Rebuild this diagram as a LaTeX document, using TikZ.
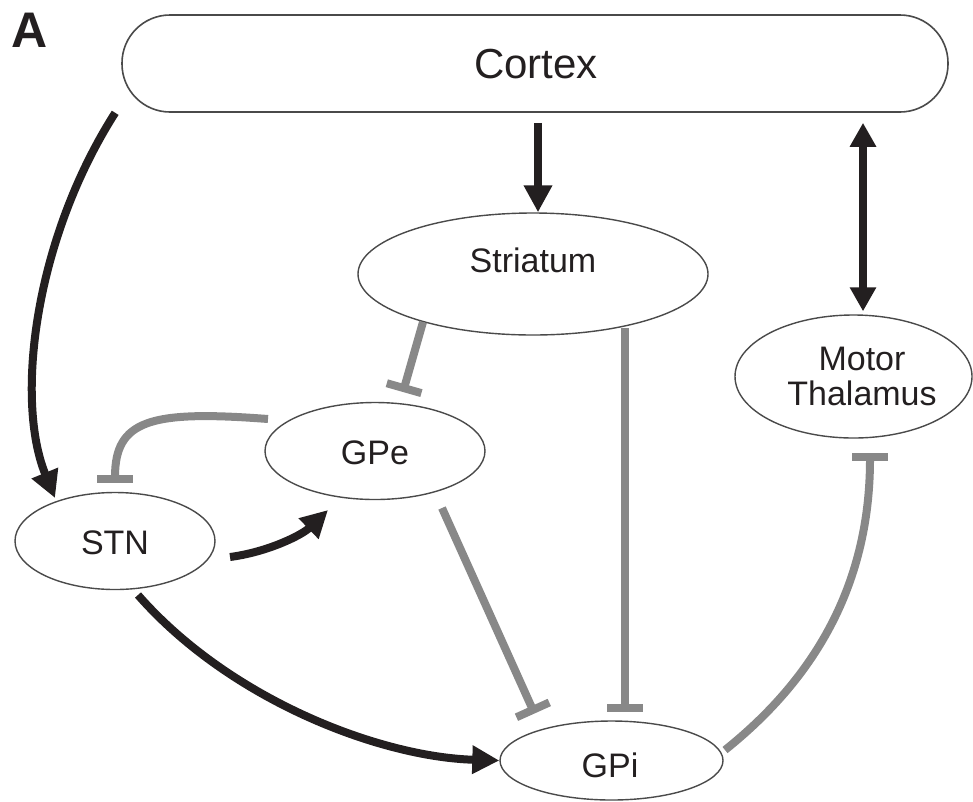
\documentclass[tikz,border=0pt]{standalone}
\usepackage{fontspec}
\setmainfont{Liberation Sans}
\usetikzlibrary{arrows.meta,shapes.geometric,calc}

\definecolor{ink}{HTML}{231F20}
\definecolor{inhib}{HTML}{888888}
\definecolor{outline}{HTML}{4A4A4A}

\begin{document}
\begin{tikzpicture}[x=1pt,y=-1pt,
  region/.style={draw=outline, line width=1.4pt, ellipse, inner sep=0pt},
  lbl/.style={font=\fontsize{34}{35}\selectfont, inner sep=0pt, text=ink, align=center},
  excite/.style={draw=ink, line width=8pt, -{Triangle[width=27pt,length=27pt]}},
  mutual/.style={draw=ink, line width=8pt,
    {Triangle[width=25pt,length=24pt]}-{Triangle[width=25pt,length=24pt]}},
  inhibit/.style={draw=inhib, line width=8pt, -{Rectangle[width=36pt,length=8pt]}},
]
\useasboundingbox (0,0) rectangle (973,801);

% panel letter
\node[font=\fontsize{50}{50}\selectfont\bfseries, inner sep=0pt, text=ink] (panel) at (30,30) {A};

% regions
\node[draw=outline, line width=1.6pt, rounded corners=48pt,
      minimum width=826pt, minimum height=97pt, inner sep=0pt] (cortex) at (535,63.5) {};
\node[region, minimum width=350pt, minimum height=122pt] (str)  at (533,274) {};
\node[region, minimum width=237pt, minimum height=123pt] (thal) at (853.5,376.5) {};
\node[region, minimum width=220pt, minimum height=97pt]  (gpe)  at (375,451) {};
\node[region, minimum width=200pt, minimum height=97pt]  (stn)  at (115,541) {};
\node[region, minimum width=223pt, minimum height=79pt]  (gpi)  at (611.5,760.5) {};

% region names
\node[lbl, font=\fontsize{42}{42}\selectfont] (cortexlbl) at (536,64) {Cortex};
\node[lbl] (strlbl)  at (533,260) {Striatum};
\node[lbl] (thallbl) at (862,376) {Motor\\Thalamus};
\node[lbl] (gpelbl)  at (375,453) {GPe};
\node[lbl] (stnlbl)  at (115,543) {STN};
\node[lbl] (gpilbl)  at (610,765) {GPi};

% excitatory projections
\draw[excite] ($(cortex.south)+(3,10)$) -- ($(str.north)+(5,0)$);
\draw[mutual] ($(cortex.south)+(328,10)$) -- ($(thal.north)+(9.5,-3)$);
\draw[excite] ($(cortex.south west)+(-6,0)$) .. controls (34,240) and (15,400) .. ($(stn)+(-60,-43)$);
\draw[excite] ($(stn)+(115,16)$) .. controls (268,552) and (302,535) .. ($(gpe)+(-47,59)$);
\draw[excite] ($(stn)+(23,54)$) .. controls (230,700) and (380,757) .. (gpi.west);

% inhibitory projections
\draw[inhibit] ($(str)+(-110,48)$) -- ($(gpe)+(28,-59)$);
\draw[inhibit] ($(str)+(92,54)$) -- ($(gpi)+(13.5,-48.5)$);
\draw[inhibit] ($(gpe)+(-107,-32)$) .. controls (150,410) and (115,420) .. ($(stn)+(0,-58)$);
\draw[inhibit] ($(gpe)+(67,57)$) -- ($(gpi)+(-77,-47)$);
\draw[inhibit] ($(gpi)+(113.5,-10.5)$) .. controls (800,690) and (870,600) .. ($(thal)+(16.5,76.5)$);
\end{tikzpicture}
\end{document}
